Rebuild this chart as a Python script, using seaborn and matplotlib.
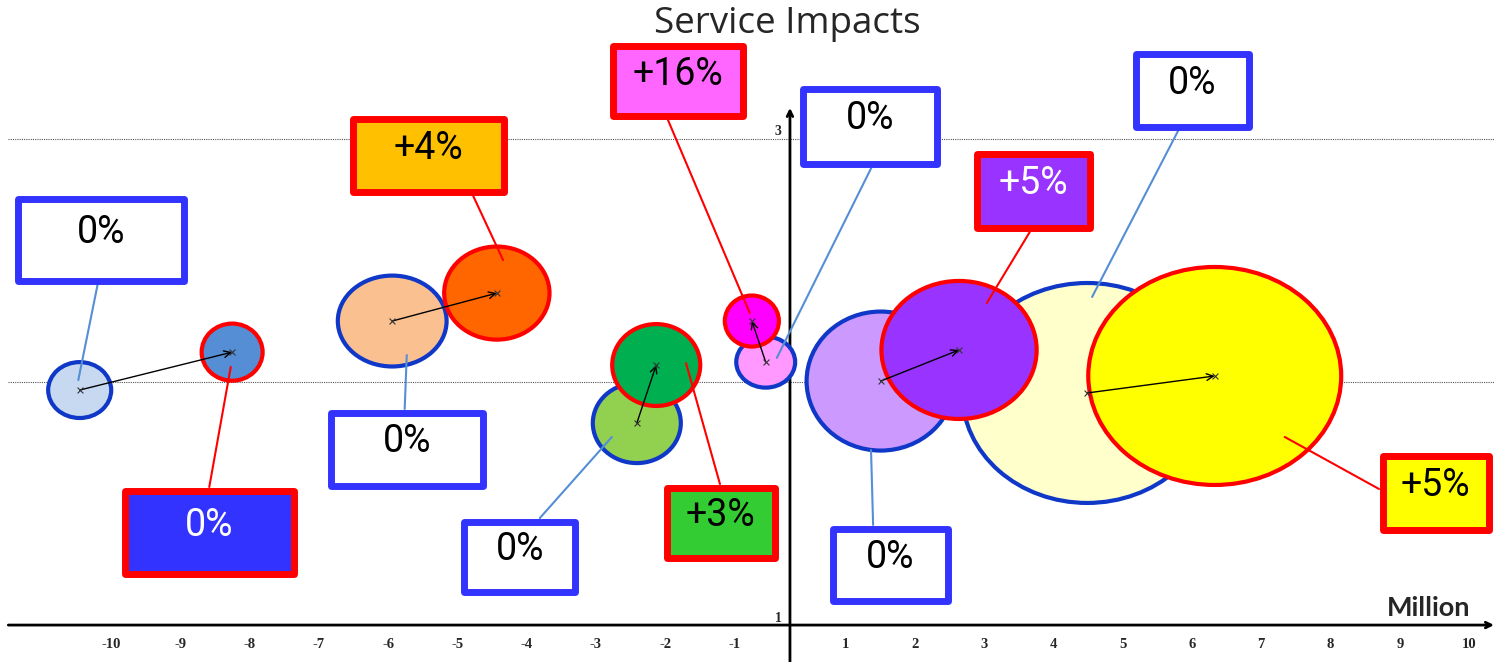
import numpy as np
import matplotlib
matplotlib.use("Agg")
import matplotlib.pyplot as plt
from matplotlib.patches import Ellipse, Rectangle
import seaborn as sns

# --- data: old position (blue outline) -> new position (red outline), Million / score
old_x = [-10.25, -5.74, -2.21, -0.35, 1.31, 4.29]
old_y = [1.967, 2.251, 1.831, 2.082, 2.004, 1.955]
old_w = [0.91, 1.57, 1.27, 0.85, 2.14, 3.61]
old_h = [0.230, 0.374, 0.329, 0.210, 0.572, 0.905]
new_x = [-8.05, -4.23, -1.93, -0.55, 2.44, 6.13]
new_y = [2.123, 2.366, 2.070, 2.251, 2.132, 2.025]
new_w = [0.88, 1.52, 1.27, 0.78, 2.24, 3.65]
new_h = [0.235, 0.383, 0.337, 0.210, 0.568, 0.897]
old_labels = ["0%", "0%", "0%", "0%", "0%", "0%"]
new_labels = ["0%", "+4%", "+3%", "+16%", "+5%", "+5%"]

old_face = ["#c6d9f1", "#fac090", "#92d050", "#ff99ff", "#cc99ff", "#ffffcc"]
new_face = ["#558ed5", "#ff6600", "#00b050", "#ff00ff", "#9933ff", "#ffff00"]
new_box_face = ["#3333ff", "#ffc000", "#33cc33", "#ff66ff", "#9933ff", "#ffff00"]
new_box_text = ["white", "black", "black", "black", "white", "black"]

xticks = [-10, -9, -8, -7, -6, -5, -4, -3, -2, -1, 1, 2, 3, 4, 5, 6, 7, 8, 9, 10]

# --- label layout: box centre, box size, leader start (box) and end (bubble)
old_box = [(-9.94, 2.586, 2.40, 0.337), (-5.53, 1.724, 2.19, 0.300),
           (-3.90, 1.280, 1.60, 0.292), (1.16, 3.053, 1.93, 0.308),
           (1.45, 1.249, 1.65, 0.296), (5.81, 3.198, 1.62, 0.300)]
old_lead = [((-9.99, 2.403), (-10.27, 2.008)), ((-5.56, 1.889), (-5.53, 2.111)),
            ((-3.61, 1.440), (-2.57, 1.774)), ((1.18, 2.885), (-0.19, 2.099)),
            ((1.20, 1.412), (1.17, 1.720)), ((5.60, 3.033), (4.36, 2.350))]
new_box = [(-8.38, 1.381, 2.44, 0.345), (-5.21, 2.932, 2.18, 0.304),
           (-1.00, 1.420, 1.56, 0.292), (-1.62, 3.237, 1.88, 0.288),
           (3.51, 2.786, 1.63, 0.308), (9.32, 1.545, 1.53, 0.304)]
new_lead = [((-8.38, 1.568), (-8.07, 2.062)), ((-4.57, 2.765), (-4.14, 2.502)),
            ((-1.01, 1.580), (-1.50, 2.078)), ((-1.76, 3.078), (-0.58, 2.284)),
            ((3.46, 2.617), (2.84, 2.325)), ((8.50, 1.560), (7.14, 1.774))]
new_z = [3, 3, 3, 2.5, 3, 3]

sns.set_style("white")
box_font = ["Liberation Sans Narrow", "Roboto", "DejaVu Sans"]

fig = plt.figure(figsize=(14.94, 6.62), dpi=100)
ax = fig.add_axes([0, 0, 1, 1])
ax.set_xlim(-11.40, 10.16)
ax.set_ylim(0.848, 3.572)
ax.axis("off")

# grid lines and axes with arrowheads
ax.hlines([2, 3], -11.28, 10.16, colors="#555555", linestyles=(0, (1, 1)), lw=0.8, zorder=0)
ax.annotate("", xy=(10.16, 1), xytext=(-11.28, 1),
            arrowprops=dict(arrowstyle="->", lw=2, color="black", shrinkA=0, shrinkB=0), zorder=1)
ax.annotate("", xy=(0, 3.128), xytext=(0, 0.848),
            arrowprops=dict(arrowstyle="->", lw=2, color="black", shrinkA=0, shrinkB=0), zorder=1)

for k in xticks:
    ax.text(k - 0.2 * np.sign(k), 0.918, str(k), ha="center", va="center",
            fontsize=10.5, fontweight="bold", family="Liberation Serif")
ax.text(-0.17, 3.029, "3", ha="center", va="center", fontsize=10, fontweight="bold", family="Liberation Serif")
ax.text(-0.17, 1.029, "1", ha="center", va="center", fontsize=10, fontweight="bold", family="Liberation Serif")
ax.text(9.21, 1.07, "Million", ha="center", va="center", fontsize=19.5, fontweight="bold", family="Lato")
fig.text(787.5 / 1494, 1 - 24 / 662, "Service Impacts", ha="center", va="center",
         fontsize=26.5, color="#262626", family="Open Sans")

# bubbles
for i in range(6):
    ax.add_patch(Ellipse((old_x[i], old_y[i]), old_w[i], old_h[i], facecolor=old_face[i],
                         edgecolor="#1038c8", lw=3, zorder=2))
    ax.add_patch(Ellipse((new_x[i], new_y[i]), new_w[i], new_h[i], facecolor=new_face[i],
                         edgecolor="#ff0000", lw=3, zorder=new_z[i]))
    ax.annotate("", xy=(new_x[i], new_y[i]), xytext=(old_x[i], old_y[i]),
                arrowprops=dict(arrowstyle="->", lw=1, color="black", shrinkA=0, shrinkB=0,
                                mutation_scale=12), zorder=5)

sns.scatterplot(x=old_x + new_x, y=old_y + new_y, marker="x", s=18, color="#333333",
                linewidth=0.8, ax=ax, zorder=6, legend=False)
ax.set_xlim(-11.40, 10.16)
ax.set_ylim(0.848, 3.572)


def label_box(box, lead, text, face, edge, tcolor, lcolor):
    cx, cy, w, h = box
    ax.plot([lead[0][0], lead[1][0]], [lead[0][1], lead[1][1]], color=lcolor, lw=1.5, zorder=7)
    ax.add_patch(Rectangle((cx - w / 2, cy - h / 2), w, h, facecolor=face, edgecolor=edge,
                           lw=5, joinstyle="round", zorder=8))
    ax.text(cx, cy + 0.03, text, ha="center", va="center", fontsize=27, color=tcolor,
            family=box_font, zorder=9)


for i in range(6):
    label_box(old_box[i], old_lead[i], old_labels[i], "white", "#3333ff", "black", "#558ed5")
    label_box(new_box[i], new_lead[i], new_labels[i], new_box_face[i], "#ff0000",
              new_box_text[i], "#ff0000")

fig.savefig("out.png", dpi=100)
